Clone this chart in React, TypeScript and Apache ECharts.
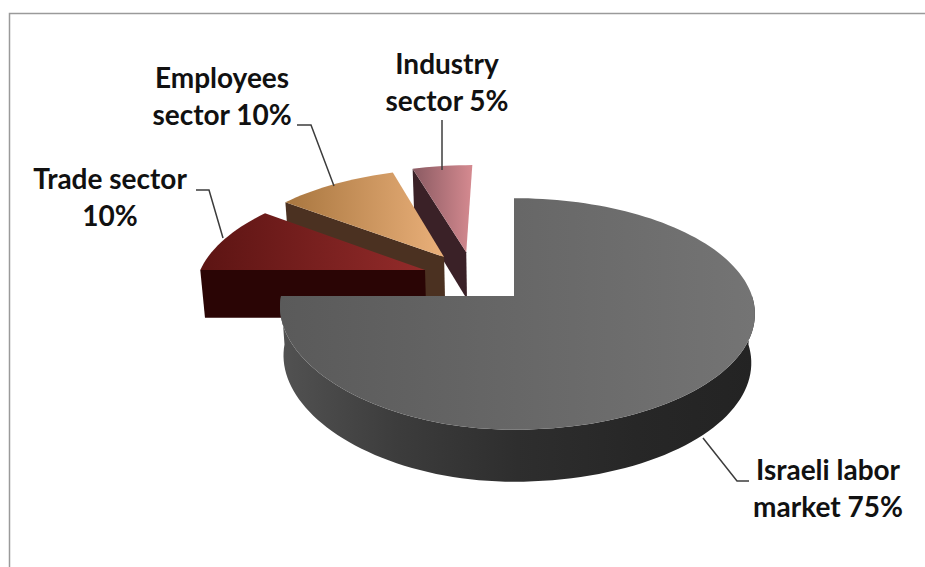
import React, { useEffect, useRef } from "react";
import * as echarts from "echarts";

const categories = ["Israeli labor market", "Trade sector", "Employees sector", "Industry sector"];
const shares = [75, 10, 10, 5];
const labelLines = [
  ["Israeli labor", "market 75%"],
  ["Trade sector", "10%"],
  ["Employees", "sector 10%"],
  ["Industry", "sector 5%"],
];

// look of each slice, in the order of the categories
const explode = [[0, 0], [-0.396, 0.2375], [-0.317, 0.364], [-0.218, 0.412]];
const topFill = [
  ["#5a5a5a", "#747474"],
  ["#5c1413", "#932b2a"],
  ["#a8763f", "#eab07a"],
  ["#8a5a62", "#d58a90"],
];
const wallFill = ["#2b2b2b", "#2a0505", "#4b3121", "#3a2127"];
const labelPos = [[828, 487], [110, 196], [222, 95], [447, 81]];
const leaders = [
  [[703, 438], [737, 481], [749, 481]],
  [[223, 238], [209, 190], [196, 190]],
  [[334, 186], [311, 125], [297, 125]],
  [[442, 170], [442, 120]],
];

const CX = 514, CY = 296, K = 0.155, B = 113, AL = 233, AR = 238;

function project(u: number, v: number, bottom: boolean): number[] {
  const w = 1 + K * v;
  const wx = u < 0 && v < 0 ? 1 + K * v * 0.6 : w;
  const s = bottom ? 0.985 : 1;
  const x = CX + (u < 0 ? AL : AR) * s * (u / wx);
  const y = CY - B * (v / w);
  return bottom ? [x, y + 48.5 - 3.5 * v] : [x, y];
}

function rim(a0: number, a1: number, off: number[], bottom: boolean): number[][] {
  const pts: number[][] = [];
  const n = Math.max(8, Math.round(Math.abs(a1 - a0) / 2));
  for (let i = 0; i <= n; i++) {
    const t = ((a0 + ((a1 - a0) * i) / n) * Math.PI) / 180;
    pts.push(project(off[0] + Math.sin(t), off[1] + Math.cos(t), bottom));
  }
  return pts;
}

function linear(colors: string[]) {
  return {
    type: "linear",
    x: 0, y: 0, x2: 1, y2: 0,
    colorStops: colors.map((c, i) => ({ offset: i / (colors.length - 1), color: c })),
  };
}

const total = shares.reduce((a, b) => a + b, 0);
let acc = 0;
const starts = shares.map((s) => {
  const r = acc;
  acc += s;
  return r;
});
// back slices first, so that the big slice lies on top
const drawOrder = [3, 2, 1, 0];

function renderSlice(_: any, api: any) {
  const idx = api.value(0);
  const a0 = (api.value(1) / total) * 360;
  const a1 = a0 + (api.value(2) / total) * 360;
  const off = explode[idx];
  const children: any[] = [];
  const apexTop = project(off[0], off[1], false);
  const apexBottom = project(off[0], off[1], true);
  if (idx === 0) {
    const top = rim(90, a1, off, false);
    const bot = rim(90, a1, off, true).reverse();
    children.push({
      type: "polygon",
      shape: { points: [...top, ...bot] },
      style: { fill: linear(["#525252", "#3c3c3c", "#2e2e2e", "#272727", "#232323"]) },
    });
  } else {
    // the radial wall on the side of the slice that faces the viewer
    const edgeTop = rim(a0, a0, off, false)[0];
    const edgeBottom = rim(a0, a0, off, true)[0];
    children.push({
      type: "polygon",
      shape: { points: [apexTop, edgeTop, edgeBottom, apexBottom] },
      style: { fill: wallFill[idx] },
    });
  }
  children.push({
    type: "polygon",
    shape: { points: [apexTop, ...rim(a0, a1, off, false)] },
    style: { fill: linear(topFill[idx]) },
  });
  return { type: "group", children };
}

export default function App() {
  const ref = useRef<HTMLDivElement>(null);
  useEffect(() => {
    document.body.style.margin = "0";
    const chart = echarts.init(ref.current!, undefined, { renderer: "svg" });
    chart.setOption({
      animation: false,
      backgroundColor: "#ffffff",
      series: [
        {
          type: "custom",
          coordinateSystem: "none",
          renderItem: renderSlice,
          silent: true,
          data: drawOrder.map((i) => ({ name: categories[i], value: [i, starts[i], shares[i]] })),
        },
      ],
      graphic: [
        {
          type: "polyline",
          shape: { points: [[9.5, 567], [9.5, 13.5], [925, 13.5]] },
          style: { stroke: "#9a9a9a", lineWidth: 1.5, fill: "none" },
        },
        ...leaders.map((pts) => ({
          type: "polyline",
          z: 20,
          shape: { points: pts },
          style: { stroke: "#3c3c3c", lineWidth: 1.5, fill: "none" },
        })),
        ...labelLines.map((lines, i) => ({
          type: "text",
          z: 20,
          x: labelPos[i][0],
          y: labelPos[i][1],
          style: {
            text: lines.join("\n"),
            fill: "#111111",
            font: "bold 28px Lato, 'Open Sans', sans-serif",
            lineHeight: 37,
            align: "center",
            verticalAlign: "middle",
          },
        })),
      ],
    });
    return () => chart.dispose();
  }, []);
  return <div ref={ref} style={{ width: 925, height: 567 }} />;
}
